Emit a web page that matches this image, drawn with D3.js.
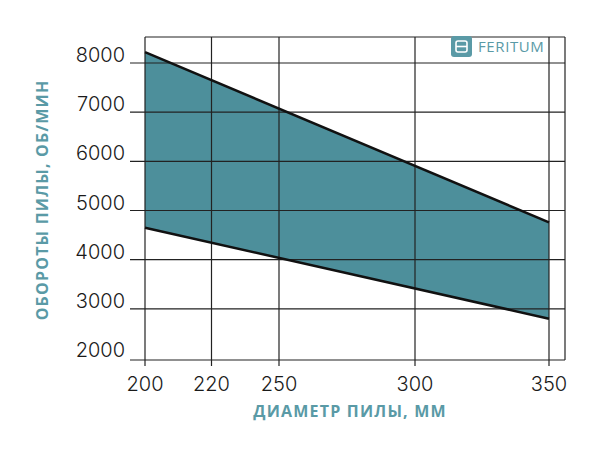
<!DOCTYPE html>
<html>
<head>
<meta charset="utf-8">
<script src="https://cdn.jsdelivr.net/npm/d3@7"></script>
<style>
  body { margin: 0; background: #fff; }
</style>
</head>
<body>
<div id="chart"></div>
<script>
const xTicks = [200, 220, 250, 300, 350]
const yTicks = [2000, 3000, 4000, 5000, 6000, 7000, 8000]
const diameters = [200, 350]
const rpmMax = [8220, 4760]
const rpmMin = [4650, 2800]

const width = 600
const height = 450
const plotLeft = 145
const plotRight = 565
const plotTop = 37
const plotBottom = 360

const svg = d3.select('#chart')
  .append('svg')
  .attr('width', width)
  .attr('height', height)

// the source chart spaces the x ticks unevenly, so map them piecewise
const x = d3.scaleLinear()
  .domain(xTicks)
  .range([145, 211.5, 279, 415, 549])

const y = d3.scaleLinear()
  .domain([2000, 8000])
  .range([358, 63])

const band = diameters.map((d, i) => ({ d, hi: rpmMax[i], lo: rpmMin[i] }))

svg.append('path')
  .datum(band)
  .attr('fill', '#4d8f9b')
  .attr('d', d3.area().x(p => x(p.d)).y0(p => y(p.lo)).y1(p => y(p.hi)))

// grid
svg.selectAll('.hgrid')
  .data(yTicks.slice(1))
  .enter().append('line')
  .attr('x1', 130).attr('x2', plotRight)
  .attr('y1', d => y(d)).attr('y2', d => y(d))
  .attr('stroke', '#222').attr('stroke-width', 1.2)

svg.selectAll('.vgrid')
  .data(xTicks)
  .enter().append('line')
  .attr('x1', d => x(d)).attr('x2', d => x(d))
  .attr('y1', plotTop).attr('y2', 366)
  .attr('stroke', '#222').attr('stroke-width', 1.2)

// frame
svg.append('line').attr('x1', plotLeft).attr('x2', plotRight).attr('y1', plotTop).attr('y2', plotTop)
  .attr('stroke', '#222').attr('stroke-width', 1.2)
svg.append('line').attr('x1', plotRight).attr('x2', plotRight).attr('y1', plotTop).attr('y2', plotBottom)
  .attr('stroke', '#222').attr('stroke-width', 1.2)
svg.append('line').attr('x1', 130).attr('x2', plotRight).attr('y1', plotBottom).attr('y2', plotBottom)
  .attr('stroke', '#222').attr('stroke-width', 1.2)

// boundary lines
const line = d3.line().x(p => p[0]).y(p => p[1])
svg.append('path')
  .attr('d', line(band.map(p => [x(p.d), y(p.hi)])))
  .attr('stroke', '#111').attr('stroke-width', 2.5).attr('fill', 'none')
svg.append('path')
  .attr('d', line(band.map(p => [x(p.d), y(p.lo)])))
  .attr('stroke', '#111').attr('stroke-width', 2.5).attr('fill', 'none')

// tick labels
svg.selectAll('.ylab')
  .data(yTicks)
  .enter().append('text')
  .attr('x', 125).attr('y', d => y(d) - 1)
  .attr('text-anchor', 'end')
  .attr('font-family', 'Inter, sans-serif')
  .attr('font-weight', 300)
  .attr('font-size', 20)
  .attr('fill', '#1a1a1a')
  .text(d => d)

svg.selectAll('.xlab')
  .data(xTicks)
  .enter().append('text')
  .attr('x', d => x(d)).attr('y', 391)
  .attr('text-anchor', 'middle')
  .attr('font-family', 'Inter, sans-serif')
  .attr('font-weight', 300)
  .attr('font-size', 20)
  .attr('fill', '#1a1a1a')
  .text(d => d)

// axis titles
svg.append('text')
  .attr('x', 350).attr('y', 417)
  .attr('text-anchor', 'middle')
  .attr('font-family', '"Open Sans", sans-serif')
  .attr('font-weight', 'bold')
  .attr('font-size', 16)
  .attr('letter-spacing', 1.2)
  .attr('fill', '#5a9aa6')
  .text('ДИАМЕТР ПИЛЫ, ММ')

svg.append('text')
  .attr('transform', 'translate(48,200) rotate(-90)')
  .attr('text-anchor', 'middle')
  .attr('font-family', '"Open Sans", sans-serif')
  .attr('font-weight', 'bold')
  .attr('font-size', 16)
  .attr('letter-spacing', 1.2)
  .attr('fill', '#5a9aa6')
  .text('ОБОРОТЫ ПИЛЫ, ОБ/МИН')

// logo
const logo = svg.append('g').attr('transform', 'translate(451,36)')
logo.append('rect')
  .attr('width', 21).attr('height', 21).attr('rx', 3)
  .attr('fill', '#5a9aa6')
logo.append('rect')
  .attr('x', 5).attr('y', 5).attr('width', 11).attr('height', 11).attr('rx', 2)
  .attr('stroke', '#fff').attr('stroke-width', 1.6).attr('fill', 'none')
logo.append('line')
  .attr('x1', 5).attr('x2', 16).attr('y1', 10.5).attr('y2', 10.5)
  .attr('stroke', '#fff').attr('stroke-width', 1.6)
logo.append('text')
  .attr('x', 27).attr('y', 16)
  .attr('font-family', '"Open Sans", sans-serif')
  .attr('font-size', 15)
  .attr('letter-spacing', 0.6)
  .attr('fill', '#5a9aa6')
  .text('FERITUM')
</script>
</body>
</html>
